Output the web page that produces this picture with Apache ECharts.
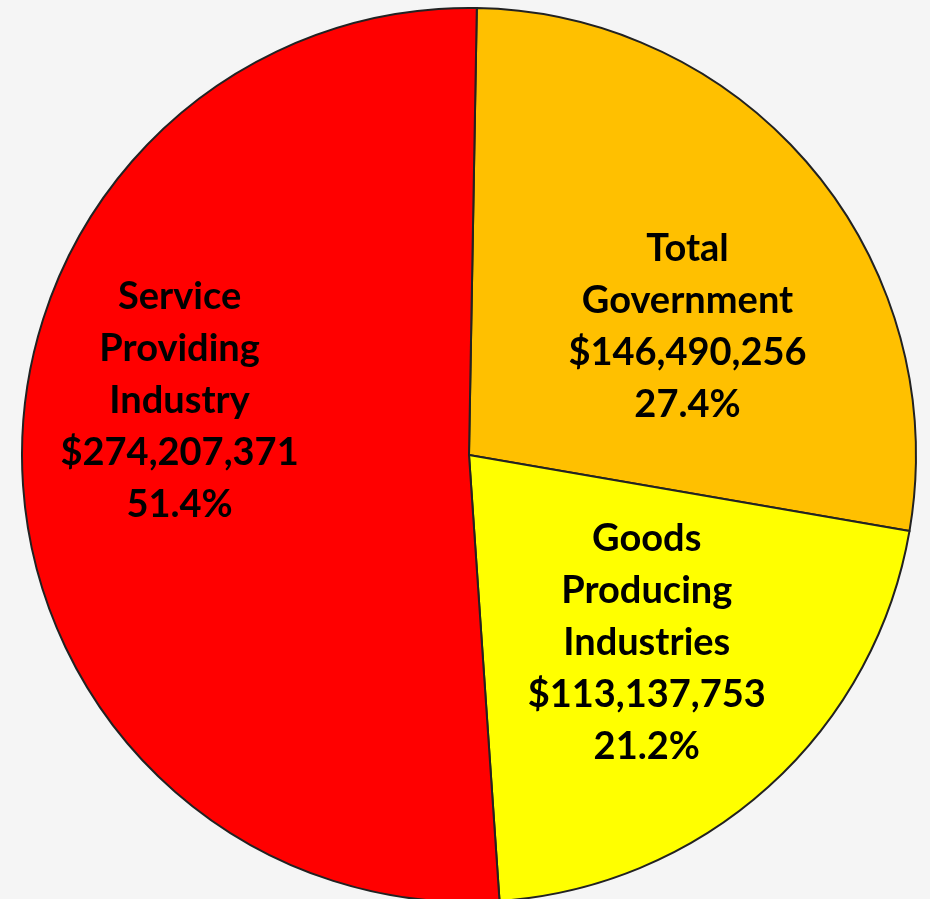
<!DOCTYPE html>
<html>
<head>
<meta charset="utf-8">
<script src="https://cdn.jsdelivr.net/npm/echarts@6/dist/echarts.min.js"></script>
<style>
  html, body { margin: 0; padding: 0; background: #f5f5f5; }
  #chart { width: 930px; height: 899px; }
</style>
</head>
<body>
<div id="chart"></div>
<script>
// slices, clockwise from the top
const categories = ['Total\nGovernment', 'Goods\nProducing\nIndustries', 'Service\nProviding\nIndustry'];
const values = [146490256, 113137753, 274207371];
const colors = ['#ffc000', '#ffff00', '#ff0000'];

// nudge labels toward where the original put them
const labelShift = [[44, 16], [26, 20], [-63, -60]];

const chart = echarts.init(document.getElementById('chart'));

chart.setOption({
  backgroundColor: '#f5f5f5',
  animation: false,
  series: [{
    type: 'pie',
    center: [469, 455],
    radius: 447,
    startAngle: 89,
    clockwise: true,
    avoidLabelOverlap: false,
    percentPrecision: 1,
    itemStyle: {
      borderColor: '#222',
      borderWidth: 2
    },
    label: {
      show: true,
      position: 'inside',
      color: '#000',
      fontFamily: 'Lato',
      fontWeight: 'bold',
      fontSize: 38,
      lineHeight: 52,
      textBorderWidth: 0,
      formatter: p => p.name + '\n$' + p.value.toLocaleString('en-US') + '\n' + p.percent.toFixed(1) + '%'
    },
    labelLine: { show: false },
    labelLayout: p => ({ dx: labelShift[p.dataIndex][0], dy: labelShift[p.dataIndex][1] }),
    emphasis: { disabled: true },
    data: categories.map((c, i) => ({
      name: c,
      value: values[i],
      itemStyle: { color: colors[i] }
    }))
  }]
});
</script>
</body>
</html>
